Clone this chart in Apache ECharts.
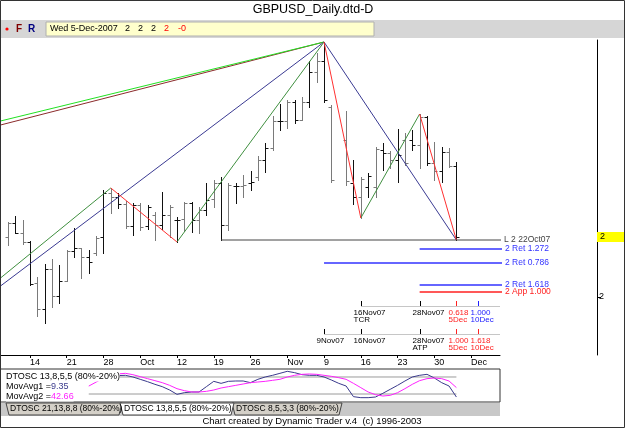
<!DOCTYPE html>
<html>
<head>
<meta charset="utf-8">
<title>GBPUSD_Daily.dtd-D</title>
<script src="https://cdn.jsdelivr.net/npm/echarts@6.0.0/dist/echarts.min.js"></script>
<style>
  html, body { margin: 0; padding: 0; background: #fff; }
  #mychart { width: 625px; height: 428px; }
</style>
</head>
<body>
<div id="mychart"></div>
<script>
"use strict";
const FONT = 'Liberation Sans';

// trading days shown on the chart (index 0 = 11 Sep 2007)
const tradeDays = [
    '11Sep07', '12Sep07', '13Sep07', '14Sep07', '17Sep07', '18Sep07', '19Sep07', '20Sep07', '21Sep07',
    '24Sep07', '25Sep07', '26Sep07', '27Sep07', '28Sep07',
    '1Oct07', '2Oct07', '3Oct07', '4Oct07', '5Oct07', '8Oct07', '9Oct07', '10Oct07', '11Oct07', '12Oct07',
    '15Oct07', '16Oct07', '17Oct07', '18Oct07', '19Oct07', '22Oct07', '23Oct07', '24Oct07', '25Oct07', '26Oct07',
    '29Oct07', '30Oct07', '31Oct07', '1Nov07', '2Nov07', '5Nov07', '6Nov07', '7Nov07', '8Nov07', '9Nov07',
    '12Nov07', '13Nov07', '14Nov07', '15Nov07', '16Nov07', '19Nov07', '20Nov07', '21Nov07', '22Nov07', '23Nov07',
    '26Nov07', '27Nov07', '28Nov07', '29Nov07', '30Nov07', '3Dec07', '4Dec07', '5Dec07'
];

// open, high, low, close
const ohlc = [
    [2.0300, 2.0375, 2.0260, 2.0370], [2.0370, 2.0405, 2.0320, 2.0320], [2.0320, 2.0385, 2.0265, 2.0275],
    [2.0275, 2.0280, 2.0060, 2.0065], [2.0070, 2.0100, 1.9905, 1.9940], [1.9940, 2.0165, 1.9870, 2.0140],
    [2.0140, 2.0190, 1.9950, 2.0005], [2.0005, 2.0160, 1.9970, 2.0080], [2.0080, 2.0235, 2.0080, 2.0230],
    [2.0230, 2.0345, 2.0200, 2.0245], [2.0245, 2.0245, 2.0095, 2.0200], [2.0200, 2.0235, 2.0120, 2.0175],
    [2.0220, 2.0305, 2.0210, 2.0295], [2.0300, 2.0535, 2.0220, 2.0520],
    [2.0520, 2.0545, 2.0420, 2.0500], [2.0500, 2.0520, 2.0445, 2.0465], [2.0465, 2.0480, 2.0345, 2.0355],
    [2.0355, 2.0470, 2.0310, 2.0460], [2.0460, 2.0470, 2.0335, 2.0350], [2.0355, 2.0460, 2.0340, 2.0450],
    [2.0410, 2.0425, 2.0285, 2.0360], [2.0360, 2.0525, 2.0340, 2.0410], [2.0410, 2.0460, 2.0300, 2.0450],
    [2.0385, 2.0400, 2.0275, 2.0385],
    [2.0390, 2.0475, 2.0330, 2.0470], [2.0470, 2.0475, 2.0325, 2.0385], [2.0385, 2.0450, 2.0320, 2.0435],
    [2.0435, 2.0570, 2.0410, 2.0485], [2.0490, 2.0585, 2.0450, 2.0570], [2.0570, 2.0600, 2.0285, 2.0360],
    [2.0360, 2.0570, 2.0335, 2.0560], [2.0555, 2.0570, 2.0470, 2.0555], [2.0555, 2.0610, 2.0500, 2.0560],
    [2.0570, 2.0630, 2.0535, 2.0575],
    [2.0600, 2.0705, 2.0585, 2.0685], [2.0685, 2.0770, 2.0625, 2.0745], [2.0745, 2.0905, 2.0735, 2.0880],
    [2.0880, 2.0965, 2.0835, 2.0880], [2.0880, 2.0985, 2.0845, 2.0975], [2.0975, 2.0985, 2.0870, 2.0885],
    [2.0885, 2.1000, 2.0885, 2.0975], [2.0975, 2.1180, 2.0950, 2.1125], [2.1125, 2.1220, 2.1075, 2.1180],
    [2.1180, 2.1275, 2.0975, 2.0985],
    [2.0950, 2.0960, 2.0575, 2.0585], null, [2.0785, 2.0930, 2.0560, 2.0580],
    [2.0570, 2.0685, 2.0465, 2.0500], [2.0500, 2.0600, 2.0395, 2.0590], [2.0550, 2.0620, 2.0500, 2.0605],
    [2.0550, 2.0750, 2.0500, 2.0740], [2.0735, 2.0770, 2.0635, 2.0720], [2.0720, 2.0730, 2.0645, 2.0685],
    [2.0685, 2.0840, 2.0575, 2.0710],
    [2.0785, 2.0820, 2.0660, 2.0670], [2.0785, 2.0835, 2.0735, 2.0760], [2.0760, 2.0915, 2.0645, 2.0900],
    [2.0900, 2.0905, 2.0660, 2.0670], [2.0670, 2.0775, 2.0585, 2.0630], [2.0630, 2.0750, 2.0575, 2.0725],
    [2.0725, 2.0745, 2.0650, 2.0655], [2.0655, 2.0675, 2.0285, 2.0300]
];

// weekly date axis (day index of each Friday tick)
const weekTickIdx = [3, 8, 13, 18, 23, 28, 33, 38, 43, 48, 53, 58, 63];
const weekLabels = ['14', '21', '28', 'Oct', '12', '19', '26', 'Nov', '9', '16', '23', '30', 'Dec'];

// swing lines [dayIndex, price]
const longGreen = [[-1, 2.0880], [43, 2.1275]];
const longBrown = [[-1, 2.0860], [43, 2.1275]];
const navyUp = [[-1, 2.0055], [43, 2.1275]];
const navyDown = [[43, 2.1275], [61, 2.0285]];
const swingUp = [[[-1, 2.0095], [14, 2.0545]], [[23, 2.0275], [43, 2.1275]], [[48, 2.0395], [56, 2.0915]]];
const swingDown = [[[14, 2.0545], [23, 2.0275]], [[43, 2.1275], [48, 2.0395]], [[56, 2.0915], [61, 2.0285]]];

// price levels
const levelNames = ['L 2 22Oct07', '2 Ret 1.272', '2 Ret 0.786', '2 Ret 1.618', '2 App 1.000'];
const levelPrices = [2.0285, 2.0240, 2.0170, 2.0060, 2.0025];
const levelStart = [29, 56, 43, 56, 56];
const levelColors = ['#444444', '#3333ff', '#3333ff', '#3333ff', '#ff2020'];
const levelEnd = 67.4;

// time projections
const tcrIdx = [48, 56, 61, 64];
const tcrTop = ['16Nov07', '28Nov07', '0.618', '1.000'];
const tcrBottom = ['TCR', '', '5Dec', '10Dec'];
const tcrColors = ['#000', '#000', '#ff2020', '#2020ff'];
const atpIdx = [43, 48, 56, 61, 64];
const atpTop = ['9Nov07', '16Nov07', '28Nov07', '1.000', '1.618'];
const atpBottom = ['', '', 'ATP', '5Dec', '10Dec'];
const atpColors = ['#000', '#000', '#000', '#ff2020', '#ff2020'];

// oscillator DTOSC 13,8,5,5
const movAvg1 = [
    null, null, null, null, null, null, null, null, null, null, null,
    70, 78, 82, 84, 85, 85.9, 80, 71.8, 63.5, 54.1, 45.9, 34.1, 18.8, 24.7, 27.1, 27.1, 45.9, 64.7, 57.6,
    64.7, 65.9, 65.9, 60, 71.8, 80, 85.9, 92.9, 100, 95.3, 88.2, 85.9, 85.9, 80, 69.4, 57.6, 48.2, 10.6,
    7.1, 7.1, 9.4, 22.4, 36.5, 50.6, 65.9, 80, 85.9, 89.4, 76.5, 60, 48.2, 9.35
];
const movAvg2 = [
    null, null, null, null, null, null, null, null, null, null, null,
    48, 62, 76, 86, 91, 92.9, 88.2, 81.2, 74.1, 67.1, 60, 50.6, 38.8, 31.8, 27.1, 27.1, 29.4, 34.1, 41.2,
    45.9, 50.6, 55.3, 60, 62.4, 64.7, 68.2, 71.8, 80, 85.9, 89.4, 90.6, 89.4, 85.9, 82.4, 77.6, 71.8, 57.6,
    42.4, 27.1, 17.6, 12.9, 15.3, 24.7, 38.8, 54.1, 67.1, 74.1, 76.5, 74.1, 65.9, 42.66
];
const oscBands = [80, 20];
const oscRange = [11, 61];

const X_MIN = -1.07;
const X_MAX = 66.93;

const container = document.getElementById('mychart');
const myChart = echarts.init(container);

function pairs(arr) {
    return arr.map((v, i) => [i, v]);
}

function renderBar(params, api) {
    const i = api.value(0);
    const o = api.coord([i, api.value(1)]);
    const h = api.coord([i, api.value(2)]);
    const l = api.coord([i, api.value(3)]);
    const c = api.coord([i, api.value(4)]);
    const x = Math.round(o[0]) + 0.5;
    const color = i % 2 ? '#111' : '#7a7a7a';
    const st = { stroke: color, lineWidth: 1 };
    const yo = Math.round(o[1]) + 0.5;
    const yc = Math.round(c[1]) + 0.5;
    return {
        type: 'group',
        children: [
            { type: 'line', shape: { x1: x, y1: Math.round(h[1]), x2: x, y2: Math.round(l[1]) + 1 }, style: st },
            { type: 'line', shape: { x1: x - 3, y1: yo, x2: x, y2: yo }, style: st },
            { type: 'line', shape: { x1: x, y1: yc, x2: x + 3, y2: yc }, style: st }
        ]
    };
}

function projectionSeries(idx, top, bottom, colors, yLine) {
    return {
        type: 'custom',
        xAxisIndex: 0,
        yAxisIndex: 0,
        clip: false,
        silent: true,
        data: idx.map(d => [d, 2.0]),
        renderItem(params, api) {
            const k = params.dataIndex;
            const x = Math.round(api.coord([api.value(0), api.value(1)])[0]) + 0.5;
            const right = params.coordSys.x + params.coordSys.width;
            const children = [];
            if (k === 0) {
                children.push({ type: 'line', shape: { x1: x, y1: yLine + 0.5, x2: right, y2: yLine + 0.5 },
                    style: { stroke: '#8c8c8c', lineWidth: 1, lineDash: [1, 1] } });
            }
            children.push({ type: 'line', shape: { x1: x, y1: yLine - 5, x2: x, y2: yLine },
                style: { stroke: colors[k], lineWidth: 1 } });
            children.push({ type: 'text', style: { text: top[k], x: x - 8, y: yLine + 7, fill: colors[k],
                fontSize: 8, fontFamily: FONT, align: 'left', verticalAlign: 'middle' } });
            if (bottom[k]) {
                children.push({ type: 'text', style: { text: bottom[k], x: x - 8, y: yLine + 14, fill: colors[k],
                    fontSize: 8, fontFamily: FONT, align: 'left', verticalAlign: 'middle' } });
            }
            return { type: 'group', children };
        }
    };
}

function lineSeries(data, color, width) {
    return {
        type: 'line',
        xAxisIndex: 0,
        yAxisIndex: 0,
        data,
        symbol: 'none',
        silent: true,
        lineStyle: { color, width: width || 1 }
    };
}

const series = [];
series.push({
    type: 'custom',
    xAxisIndex: 0,
    yAxisIndex: 0,
    silent: true,
    renderItem: renderBar,
    data: ohlc.map((d, i) => d ? [i].concat(d) : null).filter(Boolean)
});
series.push(lineSeries(longBrown, '#8b2b2b'));
series.push(lineSeries(longGreen, '#22e022'));
series.push(lineSeries(navyUp, '#3a3a92'));
series.push(lineSeries(navyDown, '#3a3a92'));
swingUp.forEach(seg => series.push(lineSeries(seg, '#3f8f3f')));
swingDown.forEach(seg => series.push(lineSeries(seg, '#ff3030')));
levelNames.forEach((name, k) => {
    series.push({
        type: 'line',
        name,
        xAxisIndex: 0,
        yAxisIndex: 0,
        clip: false,
        silent: true,
        symbol: 'none',
        data: [[levelStart[k], levelPrices[k]], [levelEnd, levelPrices[k]]],
        lineStyle: { color: levelColors[k], width: k === 0 ? 1 : 1.5 },
        endLabel: { show: true, formatter: name, color: levelColors[k], fontSize: 8.5, fontFamily: FONT, distance: 3 }
    });
});
series.push(projectionSeries(tcrIdx, tcrTop, tcrBottom, tcrColors, 306));
series.push(projectionSeries(atpIdx, atpTop, atpBottom, atpColors, 334));

// oscillator panel
oscBands.forEach(b => {
    series.push({
        type: 'line', xAxisIndex: 1, yAxisIndex: 1, symbol: 'none', silent: true,
        data: [[oscRange[0], b], [oscRange[1], b]],
        lineStyle: { color: '#9a9a9a', width: 1 }
    });
});
series.push({
    type: 'line', xAxisIndex: 1, yAxisIndex: 1, symbol: 'none', silent: true,
    data: pairs(movAvg1), lineStyle: { color: '#3a3a8c', width: 1 }
});
series.push({
    type: 'line', xAxisIndex: 1, yAxisIndex: 1, symbol: 'none', silent: true,
    data: pairs(movAvg2), lineStyle: { color: '#ff22ff', width: 1 }
});

const option = {
    animation: false,
    grid: [
        { left: 0, top: 40, width: 500, height: 315 },
        { left: 0, top: 369, width: 500, height: 33, show: true, borderColor: '#333', borderWidth: 1, backgroundColor: '#fff' }
    ],
    xAxis: [
        {
            type: 'value', gridIndex: 0, min: X_MIN, max: X_MAX,
            axisLine: { show: true, onZero: false, lineStyle: { color: '#000', width: 1 } },
            axisTick: { show: true, customValues: weekTickIdx, length: 3, lineStyle: { color: '#000' } },
            axisLabel: {
                customValues: weekTickIdx, align: 'left', margin: 3, fontSize: 9, fontFamily: FONT, color: '#000',
                formatter: v => weekLabels[weekTickIdx.indexOf(v)]
            },
            splitLine: { show: false }
        },
        {
            type: 'value', gridIndex: 1, min: X_MIN, max: X_MAX,
            axisLine: { show: false }, axisTick: { show: false }, axisLabel: { show: false }, splitLine: { show: false }
        }
    ],
    yAxis: [
        {
            type: 'value', gridIndex: 0, min: 1.971, max: 2.1285, position: 'right', offset: 97,
            axisLine: { show: true, onZero: false, lineStyle: { color: '#000' } },
            axisTick: { show: true, customValues: [2.0], length: 4, lineStyle: { color: '#000' } },
            axisLabel: { customValues: [2.0], margin: 2, fontSize: 9, fontFamily: FONT, color: '#000',
                formatter: v => String(Math.round(v)) },
            splitLine: { show: false }
        },
        {
            type: 'value', gridIndex: 1, min: -8.2, max: 108.2,
            axisLine: { show: false }, axisTick: { show: false }, axisLabel: { show: false }, splitLine: { show: false }
        }
    ],
    series
};
myChart.setOption(option);

// header, toolbar, tabs, price marker
const last = ohlc[ohlc.length - 1];
const prev = ohlc[ohlc.length - 2];
const r0 = v => String(Math.round(v));
const chg = last[3] - prev[3];
const chgText = (chg < 0 ? '-' : '') + Math.abs(Math.round(chg));
const markerY = Math.round(myChart.convertToPixel({ yAxisIndex: 0 }, last[3]));
const small = { fontSize: 9, fontFamily: FONT };

function txt(x, y, text, color, extra) {
    return {
        type: 'text', x, y, z: 50,
        style: Object.assign({ text, fill: color || '#000', fontSize: 9, fontFamily: FONT, align: 'left', verticalAlign: 'middle' }, extra || {})
    };
}
function tab(x0, x1, label, active) {
    return [
        { type: 'polygon', z: 40, shape: { points: [[x0, 403], [x0 + 3, 415], [x1 - 3, 415], [x1, 403]] },
            style: { fill: active ? '#ffffff' : '#d4d0c8', stroke: '#444', lineWidth: 1 } },
        txt(x0 + 4, 409, label, '#000', { fontSize: 8.5 })
    ];
}

const graphic = [
    txt(313, 10, 'GBPUSD_Daily.dtd-D', '#000', { fontSize: 12.5, align: 'center' }),
    { type: 'rect', z: 30, shape: { x: 1, y: 20, width: 623, height: 18 }, style: { fill: '#d6d6d6' } },
    { type: 'rect', z: 31, shape: { x: 46, y: 22, width: 328, height: 14 }, style: { fill: '#ffffcc', stroke: '#b0b0b0' } },
    { type: 'circle', z: 32, shape: { cx: 7, cy: 29, r: 1.6 }, style: { fill: '#ff0000' } },
    txt(16, 29, 'F', '#800000', { fontWeight: 'bold', fontSize: 10 }),
    txt(28, 29, 'R', '#000080', { fontWeight: 'bold', fontSize: 10 }),
    txt(50, 29, 'Wed 5-Dec-2007', '#000'),
    txt(125, 29, r0(last[0]), '#000'),
    txt(138, 29, r0(last[1]), '#000'),
    txt(151, 29, r0(last[2]), '#000'),
    txt(164, 29, r0(last[3]), '#ff0000'),
    txt(178, 29, chgText, '#ff0000'),
    { type: 'rect', z: 30, shape: { x: 597, y: markerY - 5, width: 27, height: 10 }, style: { fill: '#ffff00' } },
    txt(600, markerY, r0(last[3]), '#000'),
    // oscillator captions
    txt(6, 377, 'DTOSC 13,8,5,5 (80%-20%)', '#000', { backgroundColor: '#fff' }),
    {
        type: 'text', x: 6, y: 387, z: 50,
        style: { text: '{a|MovAvg1 =}{b|' + movAvg1[movAvg1.length - 1] + '}', verticalAlign: 'middle', backgroundColor: '#fff',
            rich: { a: Object.assign({ fill: '#000' }, small), b: Object.assign({ fill: '#3a3a8c' }, small) } }
    },
    {
        type: 'text', x: 6, y: 397, z: 50,
        style: { text: '{a|MovAvg2 =}{b|' + movAvg2[movAvg2.length - 1] + '}', verticalAlign: 'middle', backgroundColor: '#fff',
            rich: { a: Object.assign({ fill: '#000' }, small), b: Object.assign({ fill: '#ff22ff' }, small) } }
    },
    // tab strip
    { type: 'rect', z: 35, shape: { x: 1, y: 403, width: 499, height: 13 }, style: { fill: '#c8c8c8' } },
    ...tab(6, 122, 'DTOSC 21,13,8,8 (80%-20%)', false),
    ...tab(232, 342, 'DTOSC 8,5,3,3 (80%-20%)', false),
    ...tab(120, 234, 'DTOSC 13,8,5,5 (80%-20%)', true),
    txt(312, 421, 'Chart created by Dynamic Trader v.4  (c) 1996-2003', '#000', { fontSize: 9.5, align: 'center' }),
    { type: 'rect', z: 60, shape: { x: 0.5, y: 0.5, width: 624, height: 427 }, style: { fill: null, stroke: '#333', lineWidth: 1 } }
];
myChart.setOption({ graphic });
</script>
</body>
</html>
